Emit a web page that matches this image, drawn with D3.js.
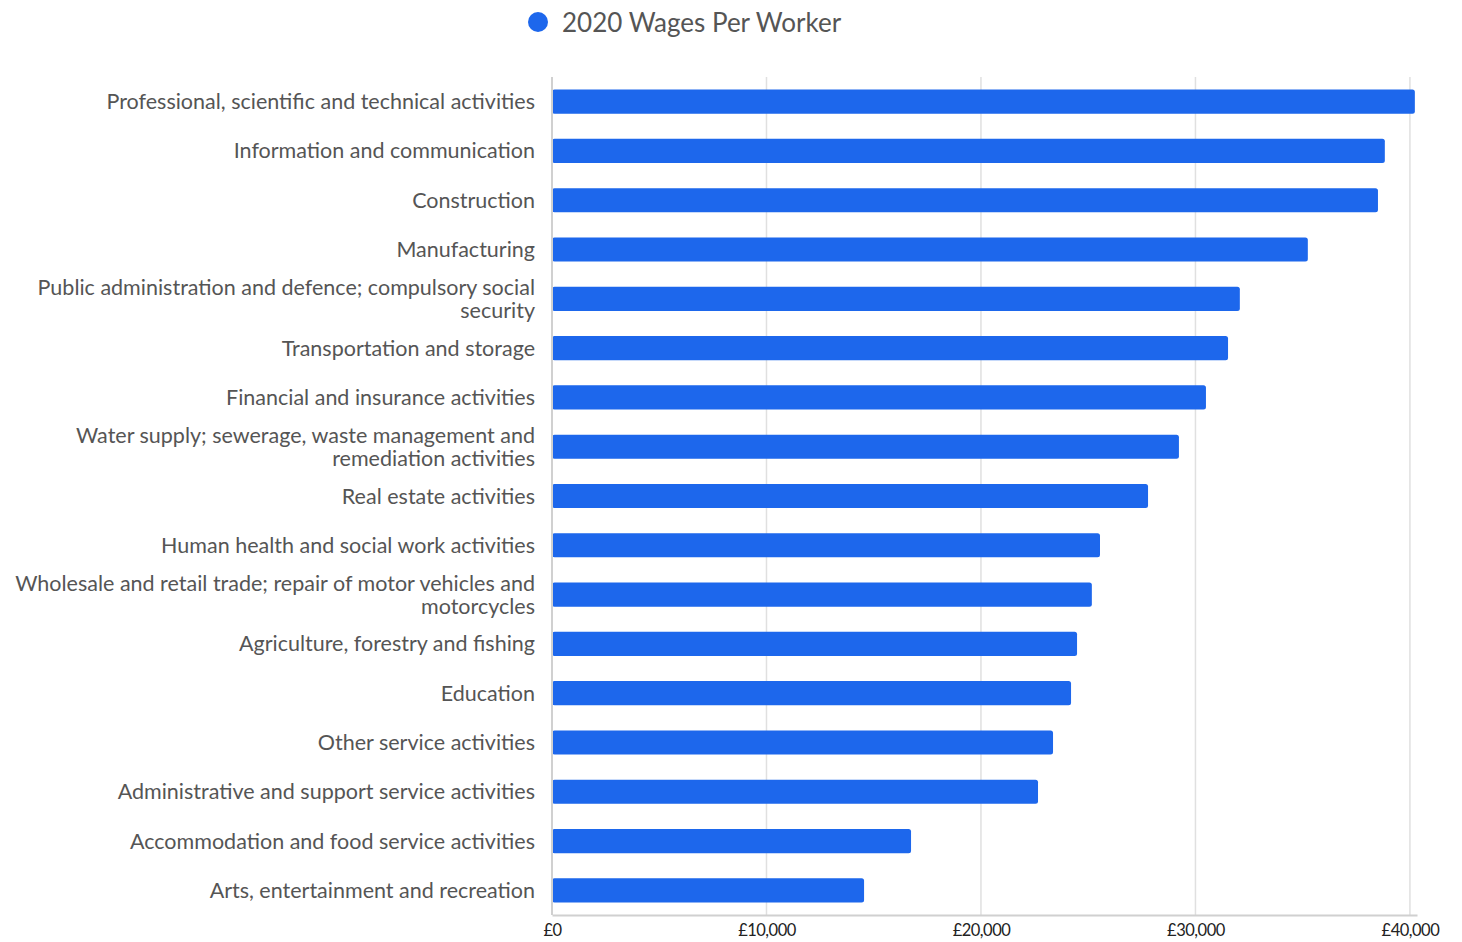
<!DOCTYPE html>
<html><head><meta charset="utf-8">
<script src="https://cdn.jsdelivr.net/npm/d3@7"></script>
<style>body{margin:0;background:#fff;} svg{display:block;font-family:Lato,"Open Sans",sans-serif;}</style>
</head><body>
<svg id="c" width="1462" height="942"></svg>
<script>
const categories = [
  "Professional, scientific and technical activities",
  "Information and communication",
  "Construction",
  "Manufacturing",
  "Public administration and defence; compulsory social security",
  "Transportation and storage",
  "Financial and insurance activities",
  "Water supply; sewerage, waste management and remediation activities",
  "Real estate activities",
  "Human health and social work activities",
  "Wholesale and retail trade; repair of motor vehicles and motorcycles",
  "Agriculture, forestry and fishing",
  "Education",
  "Other service activities",
  "Administrative and support service activities",
  "Accommodation and food service activities",
  "Arts, entertainment and recreation"
];
const wages = [40230, 38830, 38510, 35240, 32070, 31520, 30490, 29230, 27790, 25550, 25170, 24480, 24200, 23360, 22660, 16740, 14550];
const tickValues = [0, 10000, 20000, 30000, 40000];
const seriesName = "2020 Wages Per Worker";

const svg = d3.select("#c");
const mLeft = 552, mRight = 1417, mTop = 77, mBottom = 915;
const x = d3.scaleLinear().domain([0, 40330]).range([mLeft, mRight]);
const y = d3.scaleBand().domain(categories).range([mTop, mBottom]).paddingInner(0.51).paddingOuter(0.255);

// grid
svg.append("g").selectAll("line").data(tickValues.slice(1)).join("line")
  .attr("x1", d => x(d)).attr("x2", d => x(d)).attr("y1", mTop).attr("y2", mBottom)
  .attr("stroke", "#e0e0e0").attr("stroke-width", 1.5);

// x axis
const xa = svg.append("g").attr("transform", `translate(0,${mBottom})`)
  .call(d3.axisBottom(x).tickValues(tickValues).tickFormat(d => "£" + d3.format(",")(d)).tickSize(0).tickPadding(9));
xa.select(".domain").attr("stroke", "#d0d0d0").attr("stroke-width", 2);
xa.selectAll("text").attr("font-size", 16.5).attr("fill", "#222").attr("font-family", "Lato").attr("letter-spacing", "-0.5px");

// bars
svg.append("g").selectAll("rect").data(categories).join("rect")
  .attr("x", mLeft).attr("y", d => y(d)).attr("height", y.bandwidth())
  .attr("width", (d, i) => x(wages[i]) - mLeft).attr("rx", 2.5)
  .attr("fill", "#1d67ec");

// baseline
svg.append("line").attr("x1", mLeft).attr("x2", mLeft).attr("y1", mTop).attr("y2", mBottom)
  .attr("stroke", "#d0d0d0").attr("stroke-width", 2);

// y labels
const ya = svg.append("g").attr("transform", `translate(${mLeft},0)`)
  .call(d3.axisLeft(y).tickSize(0).tickPadding(17));
ya.select(".domain").remove();
ya.selectAll("text").attr("font-size", 21.5).attr("fill", "#555").attr("font-family", "Lato")
  .each(function(d) { wrap(d3.select(this), 530); });

function wrap(t, width) {
  const words = t.text().split(/\s+/);
  const xPos = t.attr("x");
  t.text(null);
  let lines = [], line = [];
  let ts = t.append("tspan");
  for (const w of words) {
    line.push(w);
    ts.text(line.join(" "));
    if (ts.node().getComputedTextLength() > width && line.length > 1) {
      line.pop();
      lines.push(line.join(" "));
      line = [w];
      ts.text(w);
    }
  }
  lines.push(line.join(" "));
  t.text(null);
  const lh = 23;
  const n = lines.length;
  lines.forEach((l, i) => {
    t.append("tspan").attr("x", xPos).attr("dy", i === 0 ? (-(n - 1) * lh / 2 + 7.5) + "px" : lh + "px").text(l);
  });
  t.attr("dy", null);
}

// legend
svg.append("circle").attr("cx", 538).attr("cy", 22).attr("r", 10).attr("fill", "#1d67ec");
svg.append("text").attr("x", 562).attr("y", 31.5).attr("font-size", 26).attr("fill", "#555").attr("font-family", "Lato").text(seriesName);
</script>
</body></html>
